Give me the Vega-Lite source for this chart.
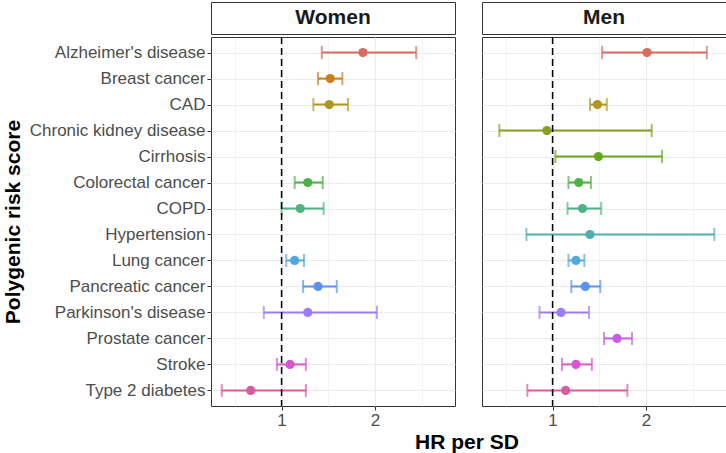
{
  "$schema": "https://vega.github.io/schema/vega-lite/v6.json",
  "padding": {"left": 1, "top": 1, "right": 0, "bottom": 1},
  "background": "white",
  "data": {
    "values": [
      {"sex": "Women", "disease": "Alzheimer's disease", "hr": 1.87, "lower": 1.43, "upper": 2.44},
      {"sex": "Women", "disease": "Breast cancer", "hr": 1.52, "lower": 1.39, "upper": 1.65},
      {"sex": "Women", "disease": "CAD", "hr": 1.51, "lower": 1.34, "upper": 1.71},
      {"sex": "Women", "disease": "Colorectal cancer", "hr": 1.28, "lower": 1.14, "upper": 1.44},
      {"sex": "Women", "disease": "COPD", "hr": 1.2, "lower": 1.0, "upper": 1.45},
      {"sex": "Women", "disease": "Lung cancer", "hr": 1.14, "lower": 1.05, "upper": 1.24},
      {"sex": "Women", "disease": "Pancreatic cancer", "hr": 1.39, "lower": 1.23, "upper": 1.59},
      {"sex": "Women", "disease": "Parkinson's disease", "hr": 1.28, "lower": 0.81, "upper": 2.02},
      {"sex": "Women", "disease": "Stroke", "hr": 1.09, "lower": 0.95, "upper": 1.26},
      {"sex": "Women", "disease": "Type 2 diabetes", "hr": 0.67, "lower": 0.36, "upper": 1.26},
      {"sex": "Men", "disease": "Alzheimer's disease", "hr": 2.01, "lower": 1.53, "upper": 2.65},
      {"sex": "Men", "disease": "CAD", "hr": 1.48, "lower": 1.4, "upper": 1.58},
      {"sex": "Men", "disease": "Chronic kidney disease", "hr": 0.94, "lower": 0.43, "upper": 2.06},
      {"sex": "Men", "disease": "Cirrhosis", "hr": 1.49, "lower": 1.03, "upper": 2.17},
      {"sex": "Men", "disease": "Colorectal cancer", "hr": 1.28, "lower": 1.17, "upper": 1.41},
      {"sex": "Men", "disease": "COPD", "hr": 1.32, "lower": 1.16, "upper": 1.52},
      {"sex": "Men", "disease": "Hypertension", "hr": 1.4, "lower": 0.72, "upper": 2.73},
      {"sex": "Men", "disease": "Lung cancer", "hr": 1.25, "lower": 1.17, "upper": 1.34},
      {"sex": "Men", "disease": "Pancreatic cancer", "hr": 1.35, "lower": 1.2, "upper": 1.51},
      {"sex": "Men", "disease": "Parkinson's disease", "hr": 1.09, "lower": 0.86, "upper": 1.39},
      {"sex": "Men", "disease": "Prostate cancer", "hr": 1.69, "lower": 1.55, "upper": 1.85},
      {"sex": "Men", "disease": "Stroke", "hr": 1.25, "lower": 1.1, "upper": 1.42},
      {"sex": "Men", "disease": "Type 2 diabetes", "hr": 1.14, "lower": 0.73, "upper": 1.8}
    ]
  },
  "config": {
    "font": "Liberation Sans",
    "view": {"stroke": "#333333", "strokeWidth": 1, "fill": "white"},
    "axis": {
      "domain": false,
      "tickColor": "#333333",
      "tickSize": 4,
      "tickWidth": 1,
      "labelColor": "#4D4D4D",
      "labelFontSize": 17,
      "labelPadding": 2,
      "gridColor": "#EBEBEB",
      "titleFontSize": 21,
      "titleFontWeight": "bold",
      "titleColor": "#000000"
    }
  },
  "title": {
    "text": "HR per SD",
    "orient": "bottom",
    "anchor": "middle",
    "frame": "group",
    "dx": 256,
    "fontSize": 21,
    "fontWeight": "bold",
    "color": "#000000",
    "offset": 3
  },
  "spacing": 25,
  "hconcat": [
    {
      "spacing": 0,
      "vconcat": [
        {
          "width": 244,
          "height": 32,
          "transform": [
            {"filter": "datum.sex === 'Women'"},
            {"aggregate": [{"op": "count", "as": "n"}], "groupby": ["sex"]}
          ],
          "mark": {"type": "text", "fontWeight": "bold", "fontSize": 21, "color": "#1A1A1A", "baseline": "middle"},
          "encoding": {
            "x": {"field": "sex", "type": "nominal", "axis": null},
            "text": {"field": "sex", "type": "nominal"}
          }
        },
        {
          "width": 244,
          "height": 369,
          "transform": [{"filter": "datum.sex === 'Women'"}],
          "layer": [
            {
              "mark": {"type": "rule", "strokeWidth": 2},
              "encoding": {
                "x": {"field": "lower", "type": "quantitative", "scale": {"domain": [0.245, 2.855], "nice": false, "zero": false},
                  "axis": {"values": [0.5, 1, 1.5, 2, 2.5], "title": null, "grid": true,
                    "labelExpr": "datum.value % 1 === 0 ? format(datum.value, 'd') : ''",
                    "tickOpacity": {"condition": {"test": "datum.value % 1 !== 0", "value": 0}, "value": 1},
                    "gridWidth": {"condition": {"test": "datum.value % 1 !== 0", "value": 0.6}, "value": 1.1}}},
                "x2": {"field": "upper"},
                "y": {"field": "disease", "type": "nominal",
                  "scale": {"type": "point", "padding": 0.6, "domain": ["Alzheimer's disease", "Breast cancer", "CAD", "Chronic kidney disease", "Cirrhosis", "Colorectal cancer", "COPD", "Hypertension", "Lung cancer", "Pancreatic cancer", "Parkinson's disease", "Prostate cancer", "Stroke", "Type 2 diabetes"]},
                  "axis": {"title": "Polygenic risk score", "grid": true, "gridWidth": 1.1, "titlePadding": 6}},
                "color": {"field": "disease", "type": "nominal", "legend": null,
                  "scale": {"domain": ["Alzheimer's disease", "Breast cancer", "CAD", "Chronic kidney disease", "Cirrhosis", "Colorectal cancer", "COPD", "Hypertension", "Lung cancer", "Pancreatic cancer", "Parkinson's disease", "Prostate cancer", "Stroke", "Type 2 diabetes"],
                    "range": ["#D96B61", "#C97F1B", "#B09520", "#8A9E1A", "#62AA1C", "#4DB245", "#4EB383", "#4DB0B3", "#4EA9E3", "#5A92F2", "#9E7BF7", "#C75BEB", "#D856CC", "#D95B9E"]}}
              }
            },
            {
              "mark": {"type": "tick", "thickness": 2, "size": 13, "orient": "vertical"},
              "encoding": {
                "x": {"field": "lower", "type": "quantitative"},
                "y": {"field": "disease", "type": "nominal"},
                "color": {"field": "disease", "type": "nominal"}
              }
            },
            {
              "mark": {"type": "tick", "thickness": 2, "size": 13, "orient": "vertical"},
              "encoding": {
                "x": {"field": "upper", "type": "quantitative"},
                "y": {"field": "disease", "type": "nominal"},
                "color": {"field": "disease", "type": "nominal"}
              }
            },
            {
              "mark": {"type": "point", "filled": true, "size": 85, "opacity": 1},
              "encoding": {
                "x": {"field": "hr", "type": "quantitative"},
                "y": {"field": "disease", "type": "nominal"},
                "color": {"field": "disease", "type": "nominal"}
              }
            },
            {
              "transform": [{"aggregate": [{"op": "count", "as": "n"}]}],
              "mark": {"type": "rule", "color": "black", "strokeWidth": 1.5, "strokeDash": [7, 4]},
              "encoding": {"x": {"datum": 1}}
            }
          ]
        }
      ]
    },
    {
      "spacing": 0,
      "vconcat": [
        {
          "width": 244,
          "height": 32,
          "transform": [
            {"filter": "datum.sex === 'Men'"},
            {"aggregate": [{"op": "count", "as": "n"}], "groupby": ["sex"]}
          ],
          "mark": {"type": "text", "fontWeight": "bold", "fontSize": 21, "color": "#1A1A1A", "baseline": "middle"},
          "encoding": {
            "x": {"field": "sex", "type": "nominal", "axis": null},
            "text": {"field": "sex", "type": "nominal"}
          }
        },
        {
          "width": 244,
          "height": 369,
          "transform": [{"filter": "datum.sex === 'Men'"}],
          "layer": [
            {
              "mark": {"type": "rule", "strokeWidth": 2},
              "encoding": {
                "x": {"field": "lower", "type": "quantitative", "scale": {"domain": [0.245, 2.855], "nice": false, "zero": false},
                  "axis": {"values": [0.5, 1, 1.5, 2, 2.5], "title": null, "grid": true,
                    "labelExpr": "datum.value % 1 === 0 ? format(datum.value, 'd') : ''",
                    "tickOpacity": {"condition": {"test": "datum.value % 1 !== 0", "value": 0}, "value": 1},
                    "gridWidth": {"condition": {"test": "datum.value % 1 !== 0", "value": 0.6}, "value": 1.1}}},
                "x2": {"field": "upper"},
                "y": {"field": "disease", "type": "nominal",
                  "scale": {"type": "point", "padding": 0.6, "domain": ["Alzheimer's disease", "Breast cancer", "CAD", "Chronic kidney disease", "Cirrhosis", "Colorectal cancer", "COPD", "Hypertension", "Lung cancer", "Pancreatic cancer", "Parkinson's disease", "Prostate cancer", "Stroke", "Type 2 diabetes"]},
                  "axis": {"title": null, "labels": false, "ticks": false, "grid": true, "gridWidth": 1.1}},
                "color": {"field": "disease", "type": "nominal", "legend": null,
                  "scale": {"domain": ["Alzheimer's disease", "Breast cancer", "CAD", "Chronic kidney disease", "Cirrhosis", "Colorectal cancer", "COPD", "Hypertension", "Lung cancer", "Pancreatic cancer", "Parkinson's disease", "Prostate cancer", "Stroke", "Type 2 diabetes"],
                    "range": ["#D96B61", "#C97F1B", "#B09520", "#8A9E1A", "#62AA1C", "#4DB245", "#4EB383", "#4DB0B3", "#4EA9E3", "#5A92F2", "#9E7BF7", "#C75BEB", "#D856CC", "#D95B9E"]}}
              }
            },
            {
              "mark": {"type": "tick", "thickness": 2, "size": 13, "orient": "vertical"},
              "encoding": {
                "x": {"field": "lower", "type": "quantitative"},
                "y": {"field": "disease", "type": "nominal"},
                "color": {"field": "disease", "type": "nominal"}
              }
            },
            {
              "mark": {"type": "tick", "thickness": 2, "size": 13, "orient": "vertical"},
              "encoding": {
                "x": {"field": "upper", "type": "quantitative"},
                "y": {"field": "disease", "type": "nominal"},
                "color": {"field": "disease", "type": "nominal"}
              }
            },
            {
              "mark": {"type": "point", "filled": true, "size": 85, "opacity": 1},
              "encoding": {
                "x": {"field": "hr", "type": "quantitative"},
                "y": {"field": "disease", "type": "nominal"},
                "color": {"field": "disease", "type": "nominal"}
              }
            },
            {
              "transform": [{"aggregate": [{"op": "count", "as": "n"}]}],
              "mark": {"type": "rule", "color": "black", "strokeWidth": 1.5, "strokeDash": [7, 4]},
              "encoding": {"x": {"datum": 1}}
            }
          ]
        }
      ]
    }
  ]
}
